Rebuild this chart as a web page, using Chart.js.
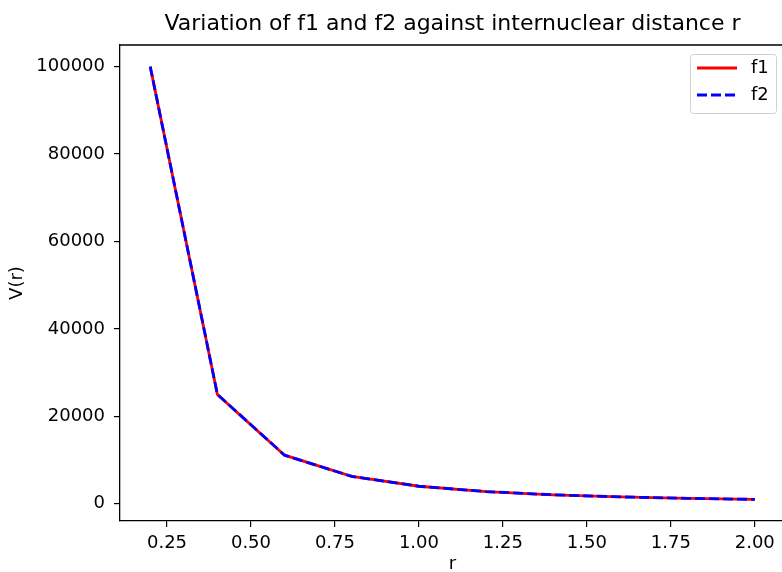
<!DOCTYPE html>
<html lang="en">
  <head>
    <meta charset="UTF-8" />
    <script src="https://cdn.jsdelivr.net/npm/chart.js"></script>
    <title>f1 and f2</title>
    <style>
      body { margin: 0; overflow: hidden; background: white; }
    </style>
  </head>
  <body>
    <div style="width: 790px; height: 572px">
      <canvas id="myChart"></canvas>
    </div>
    <script>
      // values
      const rValues = [0.2, 0.4, 0.6, 0.8, 1.0, 1.2, 1.4, 1.6, 1.8, 2.0];
      const f1Values = [100000, 25000, 11111, 6250, 4000, 2778, 2041, 1563, 1235, 1000];
      const f2Values = [100000, 25000, 11111, 6250, 4000, 2778, 2041, 1563, 1235, 1000];
      const xTicks = [0.25, 0.5, 0.75, 1.0, 1.25, 1.5, 1.75, 2.0];
      const yTicks = [0, 20000, 40000, 60000, 80000, 100000];

      const font = "'DejaVu Sans', sans-serif";

      // top spine + matplotlib style legend box in the upper right corner
      const boxLegend = {
        id: "boxLegend",
        afterDraw(chart) {
          const ctx = chart.ctx;
          const area = chart.chartArea;
          ctx.save();
          ctx.strokeStyle = "#000";
          ctx.lineWidth = 1.3;
          ctx.beginPath();
          ctx.moveTo(area.left, area.top);
          ctx.lineTo(area.right, area.top);
          ctx.moveTo(area.right, area.top);
          ctx.lineTo(area.right, area.bottom);
          ctx.stroke();

          const sets = chart.data.datasets.slice().sort((a, b) => a.legendIndex - b.legendIndex);
          const w = 86, h = 59;
          const x = area.right - 9 - w, y = area.top + 9;
          ctx.fillStyle = "rgba(255,255,255,0.8)";
          ctx.strokeStyle = "#d0d0d0";
          ctx.lineWidth = 1;
          ctx.beginPath();
          ctx.roundRect(x + 0.5, y + 0.5, w, h, 3);
          ctx.fill();
          ctx.stroke();
          ctx.font = "18px " + font;
          ctx.textBaseline = "middle";
          sets.forEach((ds, i) => {
            const ly = y + 14 + i * 27;
            ctx.strokeStyle = ds.borderColor;
            ctx.lineWidth = ds.borderWidth;
            ctx.setLineDash(ds.borderDash || []);
            ctx.beginPath();
            ctx.moveTo(x + 7, ly);
            ctx.lineTo(x + 47, ly);
            ctx.stroke();
            ctx.setLineDash([]);
            ctx.fillStyle = "#000";
            ctx.fillText(ds.label, x + 61, ly);
          });
          ctx.restore();
        },
      };

      const config = {
        type: "line",
        data: {
          datasets: [
            {
              label: "f1",
              legendIndex: 0,
              order: 1,
              data: rValues.map((r, i) => ({ x: r, y: f1Values[i] })),
              borderColor: "#ff0000",
              borderWidth: 2.8,
              pointRadius: 0,
              tension: 0,
            },
            {
              label: "f2",
              legendIndex: 1,
              order: 0,
              data: rValues.map((r, i) => ({ x: r, y: f2Values[i] })),
              borderColor: "#0000ff",
              borderWidth: 2.8,
              borderDash: [10, 4],
              pointRadius: 0,
              tension: 0,
            },
          ],
        },
        options: {
          responsive: true,
          maintainAspectRatio: false,
          animation: false,
          layout: { padding: { left: 0, right: 5, top: 0, bottom: 0 } },
          plugins: {
            legend: { display: false },
            tooltip: { enabled: false },
            title: {
              display: true,
              text: "Variation of f1 and f2 against internuclear distance r",
              fullSize: false,
              color: "#000",
              font: { family: font, size: 22, weight: "normal", lineHeight: 1.2 },
              padding: { top: 11, bottom: 7.6 },
            },
          },
          scales: {
            x: {
              type: "linear",
              min: 0.11,
              max: 2.09,
              afterBuildTicks: (s) => { s.ticks = xTicks.map((v) => ({ value: v })); },
              afterFit: (s) => { s.height = 51; },
              grid: { drawOnChartArea: false, drawTicks: true, tickLength: 6, color: "#000", lineWidth: 1.2 },
              border: { display: true, color: "#000", width: 1.3 },
              ticks: {
                color: "#000",
                padding: 6,
                maxRotation: 0,
                font: { family: font, size: 18 },
                callback: (v) => Number(v).toFixed(2),
              },
              title: {
                display: true,
                text: "r",
                color: "#000",
                font: { family: font, size: 18, lineHeight: 0.8 },
                padding: { top: 0, bottom: 0 },
              },
            },
            y: {
              type: "linear",
              min: -3950,
              max: 104950,
              afterBuildTicks: (s) => { s.ticks = yTicks.map((v) => ({ value: v })); },
              afterFit: (s) => { s.width = 120; },
              grid: { drawOnChartArea: false, drawTicks: true, tickLength: 6, color: "#000", lineWidth: 1.2 },
              border: { display: true, color: "#000", width: 1.3 },
              ticks: {
                color: "#000",
                padding: 9,
                font: { family: font, size: 18 },
                callback: (v) => String(v),
              },
              title: {
                display: true,
                text: "V(r)",
                color: "#000",
                font: { family: font, size: 18 },
                padding: { top: 7, bottom: 0 },
              },
            },
          },
        },
        plugins: [boxLegend],
      };

      var myChart = new Chart(document.getElementById("myChart"), config);
    </script>
  </body>
</html>
